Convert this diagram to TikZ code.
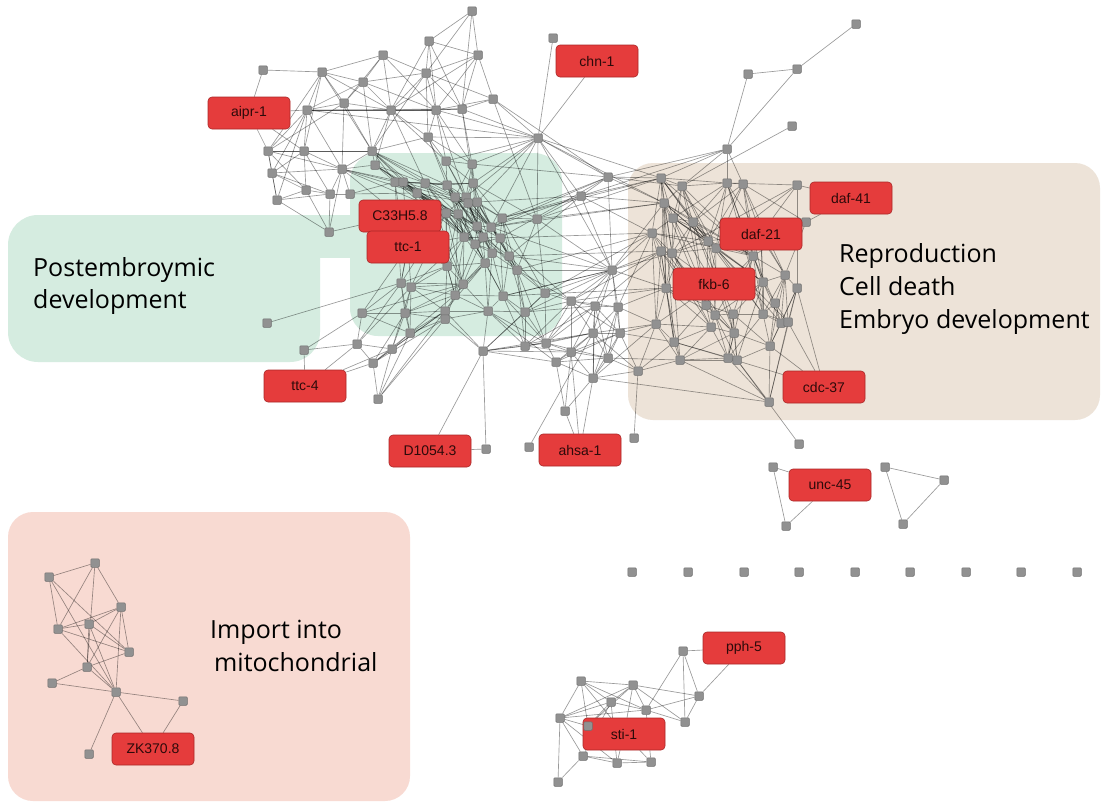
\documentclass[tikz,border=0pt]{standalone}
\usepackage{fontspec}
\setmainfont{Liberation Sans}
\newfontfamily\bigfont{Open Sans}
\pgfdeclarelayer{bgl}
\pgfdeclarelayer{edl}
\pgfsetlayers{bgl,edl,main}
\definecolor{greenbg}{RGB}{213,236,224}
\definecolor{tanbg}{RGB}{237,227,216}
\definecolor{pinkbg}{RGB}{248,218,210}
\definecolor{labred}{RGB}{229,60,60}
\definecolor{labedge}{RGB}{170,40,40}
\definecolor{gnfill}{RGB}{145,145,145}
\definecolor{gnedge}{RGB}{110,110,110}
\definecolor{labtext}{RGB}{45,10,10}
\tikzset{
 gn/.style={rectangle, draw=gnedge, fill=gnfill, line width=0.5pt, minimum size=8.5pt, inner sep=0pt, rounded corners=1pt},
 lab/.style={rectangle, draw=labedge, fill=labred, line width=0.6pt, minimum width=82pt, minimum height=32pt, rounded corners=4pt, inner sep=0pt, font=\fontsize{14}{14}\selectfont, text=labtext},
 edge/.style={draw=black, draw opacity=0.4, line width=0.65pt},
 big/.style={font=\bigfont\fontsize{25}{30}\selectfont, anchor=base west, inner sep=0pt, text=black},
}
\begin{document}
\begin{tikzpicture}[x=1pt,y=-1pt]
\useasboundingbox (0,0) rectangle (1104,803);
\begin{pgfonlayer}{bgl}
\fill[white] (0,0) rectangle (1104,803);
\fill[greenbg, rounded corners=30pt] (8,215) rectangle (320,362);
\fill[greenbg, rounded corners=28pt] (350,153) rectangle (562,336);
\fill[greenbg] (290,215) rectangle (360,258);
\fill[tanbg, rounded corners=25pt] (628,163) rectangle (1100,420);
\fill[pinkbg, rounded corners=25pt] (8,512) rectangle (410,801);
\end{pgfonlayer}

% top / left nodes
\foreach \n/\x/\y in {t1/472/11,t2/429/41,t3/383/55,t4/478/55,t5/263/70,t6/322/72,t7/363/82,t8/426/73,t9/493/99,t10/344/103,t11/307/110,t12/391/110,t13/436/110,t14/462/109,t15/553/38,t16/538/138,t17/428/137,t18/372/151,t19/268/151,t20/304/151,t21/272/173,t22/342/169,t23/375/165,t24/446/161,t25/472/164,t26/608/177,t27/581/196,t28/306/190,t29/330/194,t30/350/194,t31/277/200,t32/329/232}
  \node[gn] (\n) at (\x,\y) {};
% green cluster
\foreach \n/\x/\y in {g2/395/182,g3/403/182,g4/425/183,g5/417/193,g6/447/185,g7/455/197,g8/466/197,g9/473/183,g10/468/203,g11/477/202,g12/446/213,g13/458/214,g15/477/226,g16/491/227,g17/502/218,g18/537/219,g19/464/237,g20/475/244,g21/483/237,g22/500/238,g23/492/253,g24/485/263,g25/509/256,g26/517/270,g27/463/284,g28/455/295,g29/503/296,g30/401/283,g31/411/287,g32/545/293,g33/362/313,g34/405/313,g35/445/311,g36/445/319,g37/488/311,g38/525/312,g39/410/333,g40/447/266}
  \node[gn] (\n) at (\x,\y) {};
% bottom-left and middle
\foreach \n/\x/\y in {b1/267/323,b2/304/350,b3/357/344,b4/392/349,b5/373/363,b6/378/399,b7/483/351,b8/486/449,m1/525/346,m2/546/343,m3/556/362,m4/571/301,m5/571/352,m6/595/306,m7/612/270,m8/618/307,m9/593/333,m10/620/333,m11/608/358,m12/593/378,m13/565/411,m14/529/447,m15/638/371}
  \node[gn] (\n) at (\x,\y) {};
% tan cluster
\foreach \n/\x/\y in {r1/727/149,r2/748/74,r3/797/69,r4/856/24,r5/792/126,r6/661/178,r7/682/186,r8/727/183,r9/743/184,r10/797/185,r11/806/222,r12/664/203,r13/673/218,r14/693/222,r15/652/233,r16/708/241,r17/716/248,r18/661/251,r19/672/253,r20/753/256,r21/666/288,r22/785/275,r23/797/288,r24/763/282,r25/706/305,r26/715/315,r27/733/314,r28/763/314,r29/775/303,r30/781/323,r31/788/322,r32/711/327,r33/734/333,r34/656/324,r35/674/342,r36/680/360,r37/728/358,r38/737/360,r39/770/346,r40/769/402,r41/634/438,r42/799/444}
  \node[gn] (\n) at (\x,\y) {};
% small groups
\foreach \n/\x/\y in {u1/773/467,u2/786/526,u3/885/467,u4/944/480,u5/903/524,s1/683/651,s2/699/696,s3/685/722,s4/581/681,s5/633/685,s6/611/702,s7/646/710,s8/560/718,s10/583/756,s11/617/763,s12/651/762,s13/558/782,p1/95/563,p2/49/577,p3/121/607,p4/58/629,p5/89/624,p6/129/652,p7/87/667,p8/52/683,p9/116/692,p10/183/701,p11/89/754}
  \node[gn] (\n) at (\x,\y) {};
\foreach \i/\x in {1/632,2/688,3/744,4/799,5/855,6/910,7/966,8/1021,9/1077}
  \node[gn] (d\i) at (\x,572) {};

% labels
\node[lab] (chn) at (597,61) {chn-1};
\node[lab] (aipr) at (249,113) {aipr-1};
\node[lab] (c33) at (400,216) {C33H5.8};
\node[lab] (ttc1) at (408,247) {ttc-1};
\node[lab] (ttc4) at (305,386) {ttc-4};
\node[lab] (d1054) at (430,451) {D1054.3};
\node[lab] (ahsa) at (580,450) {ahsa-1};
\node[lab] (daf41) at (851,198) {daf-41};
\node[lab] (daf21) at (761,234) {daf-21};
\node[lab] (fkb6) at (714,284) {fkb-6};
\node[lab] (cdc37) at (824,387) {cdc-37};
\node[lab] (unc45) at (830,485) {unc-45};
\node[lab] (pph5) at (744,648) {pph-5};
\node[lab] (sti1) at (624,734) {sti-1};
\node[gn] (s9) at (588,726) {};
\node[lab] (zk) at (153,749) {ZK370.8};

% region texts
\node[big] (pe1) at (33,276) {Postembroymic};
\node[big] (pe2) at (33,308) {development};
\node[big] (rp1) at (839,262) {Reproduction};
\node[big] (rp2) at (839,295) {Cell death};
\node[big] (rp3) at (839,328) {Embryo development};
\node[big] (im1) at (210,638) {Import into};
\node[big] (im2) at (214,671) {mitochondrial};

\begin{pgfonlayer}{edl}
\foreach \a/\b in {t1/t8,t1/t4,t1/t14,t1/t2,t2/t4,t2/t8,t2/t13,t2/t12,t2/t14,t3/t7,t3/t8,t3/t12,t3/t13,t3/t10,t3/t6,t4/t9,t4/t14,t4/t13,t4/t8,t4/t12,t5/t6,t5/aipr,t6/t7,t6/t10,t6/t11,t6/t19,t6/t20,t6/t18,t6/t12,t7/t8,t7/t10,t7/t11,t7/t18,t7/t12,t7/t13,t8/t9,t8/t12,t8/t13,t8/t14,t8/t17,t8/t18,t9/t14,t9/t13,t9/t16,t9/t26,t10/t11,t10/t12,t10/t18,t10/t22,t10/t19,t11/t12,t11/t19,t11/t20,t11/t21,t11/t22,t11/t31,t11/t16,t11/t13,t11/t14,t12/t13,t12/t18,t12/t17,t12/t23,t12/t24,t12/t14,t13/t14,t13/t16,t13/t17,t13/t24,t13/t25,t14/t25,t14/t16,t15/t16,chn/t16,t16/t26,t16/t27,t16/t17,t16/g18,t16/g12,t16/t25,t16/m7,t16/g9,t16/g11,t16/t24,t16/r6,t16/r12,t16/g16,t17/t18,t17/t24,t17/t25,t18/t19,t18/t20,t18/t22,t18/t23,t18/g2,t18/g3,t18/g4,t18/g5,t18/g6,t18/g12,t18/g10,t19/t20,t19/t21,t19/t31,t19/t22,t19/t28,t19/aipr,t20/t21,t20/t22,t20/t28,t20/t29,t20/aipr,t11/aipr,t21/t22,t21/t31,t21/t28,t21/t29,t22/t23,t22/t29,t22/t30,t22/t32,t22/g2,t22/g5,t22/g12,t22/c33,t22/g3,t23/g2,t23/g3,t23/g4,t23/g5,t23/g12,t24/t25,t24/g9,t24/g6,t24/g10,t24/g8,t25/g9,t25/g8,t25/g7,t25/t26,t25/g11,t17/g6,t17/g7,t13/g8,t12/g4,t14/g9,t26/r6,t26/r7,t26/r1,t26/g16,t26/m7,t26/t27,t26/r12,t26/g17,t26/g22,t27/g18,t27/m7,t27/r6,t27/r12,t27/g17,t27/g16,t27/g25,t27/g11,t9/g18,t28/t29,t28/t31,t28/t32,t29/t30,t29/t32,t30/g2,t30/g5,t31/t32,t31/t29,t32/c33}
  \draw[edge] (\a) -- (\b);
\foreach \a/\b in {g2/g3,g2/g5,g2/g6,g2/g12,g2/g19,g2/g4,g3/g4,g3/g7,g3/g13,g3/g20,g4/g5,g4/g6,g4/g9,g4/g10,g4/g16,g5/g12,g5/g13,g5/g19,g5/g27,g6/g7,g6/g8,g6/g9,g6/g13,g6/g15,g6/g21,g7/g8,g7/g10,g7/g20,g7/g23,g8/g9,g8/g11,g8/g15,g8/g16,g8/g22,g9/g11,g9/g17,g9/g18,g10/g11,g10/g15,g10/g19,g10/g24,g10/g23,g10/g22,g11/g16,g11/g17,g11/g21,g11/g25,g12/g13,g12/g19,g12/g20,g12/g30,g12/g27,g13/g20,g13/g21,g13/g40,g13/g28,g13/g15,g15/g16,g15/g21,g15/g23,g15/g26,g16/g17,g16/g22,g16/g25,g16/g18,g17/g18,g17/g22,g17/g26,g17/g32,g18/g26,g18/g32,g18/m7,g18/r6,g19/g20,g19/g40,g19/g27,g19/g31,g20/g21,g20/g24,g20/g28,g20/g29,g21/g22,g21/g23,g21/g27,g22/g23,g22/g25,g22/g29,g23/g24,g23/g26,g23/g37,g24/g27,g24/g28,g24/g37,g24/g35,g25/g26,g25/g29,g25/g32,g25/g38,g26/g32,g26/g38,g26/m4,g27/g28,g27/g35,g27/g33,g27/g34,g28/g29,g28/g36,g28/g37,g28/g39,g29/g37,g29/g38,g29/m1,g30/g31,g30/g33,g30/g34,g30/g39,g30/b3,g30/b1,g31/g34,g31/g35,g31/g39,g31/b4,g32/g38,g32/m4,g32/m2,g32/m7,g33/g34,g33/b3,g33/b2,g34/g35,g34/g39,g34/b4,g34/b5,g35/g36,g35/b7,g35/g37,g36/b7,g36/g39,g36/b5,g37/b7,g37/g38,g37/m1,g38/m1,g38/m2,g38/b7,g39/b4,g39/b5,g39/b6,g40/g12,g40/g30,g40/g31,g40/g35,ttc1/g30,ttc1/g12,ttc1/g19,ttc1/g40,ttc1/g33,c33/g2,c33/g12,g29/r21,g18/r12,g32/r15,m7/r19,m4/r18,t27/r15}
  \draw[edge] (\a) -- (\b);
\foreach \a/\b in {g2/g10,g2/g15,g3/g15,g3/g21,g4/g19,g4/g20,g5/g20,g5/g10,g6/g16,g6/g19,g7/g16,g7/g19,g8/g17,g8/g21,g9/g15,g9/g16,g10/g13,g10/g21,g11/g15,g11/g22,g12/g15,g13/g19,g15/g19,g15/g20,g16/g21,g16/g23,g17/g21,g20/g23,g21/g24,g21/g26,g23/g27,g23/g29,g24/g29,g22/g26,g19/g21,g19/g24,g20/g22,g27/g37,g27/g40,g40/g24,g40/g28,g30/g27,g31/g28,g31/g27,g34/g28,g34/g36,g33/g39,g35/g39,g36/g37,g12/g31,g12/g40,g5/g30,g2/g30,g3/g31,g4/g27,g17/r6,g16/r12,g22/r15,g25/m7,g26/r15,g25/r18,g29/m7,g38/m7,g20/g25,g13/g24,g7/g21,g6/g20,g3/g12,g4/g13,g8/g10,g9/g10,g11/g23,g15/g22,g16/g26,g17/g25,g21/g25,g24/g26,g28/g40,g19/g28}
  \draw[edge] (\a) -- (\b);
\foreach \a/\b in {b2/ttc4,b2/b3,b3/b4,b3/b5,b3/ttc4,b3/g31,b4/b5,b4/b6,b4/g35,b5/ttc4,b4/ttc4,b5/b6,b5/g35,b6/g35,b6/g36,b7/b8,b7/d1054,b8/d1054,b7/m1,b7/m2,b7/m3,b7/g32,m1/m2,m1/m5,m1/m4,m1/g26,m2/m3,m2/m4,m2/m5,m2/m6,m2/m7,m3/m5,m3/m9,m3/m11,m3/m12,m4/m6,m4/m7,m4/m9,m4/m5,m4/g22,m5/m6,m5/m9,m5/m11,m5/m12,m5/m13,m6/m7,m6/m8,m6/m9,m6/m10,m6/m11,m7/m8,m7/m10,m7/m9,m7/r15,m7/r18,m7/g26,m7/g16,m7/g29,m7/r12,m7/r21,m8/m9,m8/m10,m8/m11,m8/r21,m8/r34,m9/m10,m9/m11,m9/m12,m10/m11,m10/m12,m10/m15,m10/r34,m11/m12,m11/m15,m12/m15,m12/r40,m12/m13,m13/ahsa,m13/m3,m14/m9,m15/r34,m15/r35,m15/r36,ahsa/m5,ahsa/m12,r41/m15,r42/r38,m1/m6,m1/m9,m2/m9,m2/m11,m3/m10,m4/m8,m4/m10,m5/m10,m6/m12,m8/m12,m9/m15,m10/r35,m11/r36,m12/r34,m8/r15,m6/r18,m4/r21,g38/m4,g38/m6,g29/m2,g26/m2,g37/m2,g37/m3,b7/m5,b7/m9}
  \draw[edge] (\a) -- (\b);
\foreach \a/\b in {r1/r2,r1/r3,r1/r6,r1/r7,r1/r8,r1/r9,r1/t27,r5/r7,r2/r3,r3/r4,r6/r7,r6/r12,r6/r13,r6/r15,r6/r8,r6/r16,r6/r20,r7/r8,r7/r12,r7/r14,r7/r17,r7/r20,r8/r9,r8/r13,r8/r16,r8/r24,r8/r10,r9/r14,r9/r16,r9/r20,r9/daf21,r10/daf21,r10/r17,r10/r19,r10/daf41,r11/daf21,r11/r20,r11/r22,r11/daf41,r12/r13,r12/r14,r12/r18,r12/r21,r12/r20,r13/r14,r13/r15,r13/r19,r13/r24,r14/r16,r14/r17,r14/r20,r14/r27,r15/r18,r15/r19,r15/r16,r16/r17,r16/r20,r16/r25,r16/r28,r17/r20,r17/r24,r17/r26,r18/r19,r18/r21,r18/r34,r19/r21,r19/r25,r19/r33,r20/r22,r20/r24,r20/r28,r20/r29,r21/r25,r21/r34,r21/r35,r22/r23,r22/r24,r22/r29,r22/r30,r23/r31,r23/r39,r23/cdc37,r23/r40,r24/r28,r24/r29,r24/r27,r25/r26,r25/r32,r25/r33,r26/r27,r26/r32,r26/r37,r27/r28,r27/r33,r27/r38,r28/r29,r28/r30,r28/r39,r29/r30,r29/r31,r30/r31,r30/r39,r31/cdc37,r31/r40,r32/r33,r32/r35,r32/r36,r33/r37,r33/r38,r34/r35,r34/r36,r34/m9,r35/r36,r35/r37,r36/r37,r36/r40,r37/r38,r37/r40,r37/cdc37,r38/r39,r38/r40,r39/cdc37,r39/r40,fkb6/r19,fkb6/r21,fkb6/r25,fkb6/r16,daf21/r20,daf21/r16,r6/r21,r15/r34,r12/r35,r7/r25,r8/r28,r9/r24,r14/r33,r13/r26,r17/r30,r16/r31,r18/r32,r19/r36,r22/r39,r20/r37,r24/r38,r10/r23,r9/r22}
  \draw[edge] (\a) -- (\b);
\foreach \a/\b in {r6/r14,r6/r17,r6/r19,r7/r13,r7/r16,r7/r19,r8/r14,r8/r17,r8/r20,r9/r17,r12/r16,r12/r17,r12/r19,r13/r16,r13/r17,r13/r20,r14/r19,r14/r21,r15/r17,r15/r21,r16/r19,r16/r24,r17/r19,r17/r25,r17/r28,r18/r25,r18/r35,r19/r26,r19/r32,r20/r25,r20/r26,r21/r26,r21/r32,r21/r36,r22/r28,r22/r31,r23/r30,r24/r26,r24/r30,r25/r27,r25/r35,r26/r33,r26/r38,r27/r37,r27/r39,r28/r31,r28/r37,r29/r39,r32/r37,r33/r36,r33/r39,r34/r32,r35/r38,r36/r38,r14/r25,r16/r33,r20/r27,r12/r25,r15/r25,r8/r22,r9/r11,daf21/r24,daf21/r28,daf21/r22,fkb6/r26,fkb6/r34,fkb6/r13}
  \draw[edge] (\a) -- (\b);
\foreach \a/\b in {u1/unc45,u2/unc45,u1/u2,u3/u4,u4/u5,u5/u3,s4/s5,s4/s8,s4/s6,s4/s7,s4/s9,s4/sti1,s5/s6,s5/s7,s5/s8,s5/s9,s5/sti1,s5/s3,s5/s2,s6/s7,s6/s8,s6/s9,s6/s10,s6/s11,s7/s1,s7/s2,s7/s3,s7/s8,s7/s12,s8/s9,s8/s10,s8/s13,s8/s11,s10/s11,s10/s13,s10/s12,s11/s12,s1/s2,s1/s3,s1/pph5,s2/pph5,s2/s3,sti1/s11,sti1/s12,p1/p2,p1/p3,p1/p4,p1/p7,p2/p4,p2/p6,p2/p9,p3/p5,p3/p4,p4/p5,p3/p7,p3/p9,p3/p6,p4/p6,p4/p9,p5/p6,p5/p7,p5/p9,p6/p7,p7/p8,p7/p9,p8/p9,p9/p10,p9/zk,p9/p11,p10/zk}
  \draw[edge] (\a) -- (\b);
\end{pgfonlayer}
\end{tikzpicture}
\end{document}
